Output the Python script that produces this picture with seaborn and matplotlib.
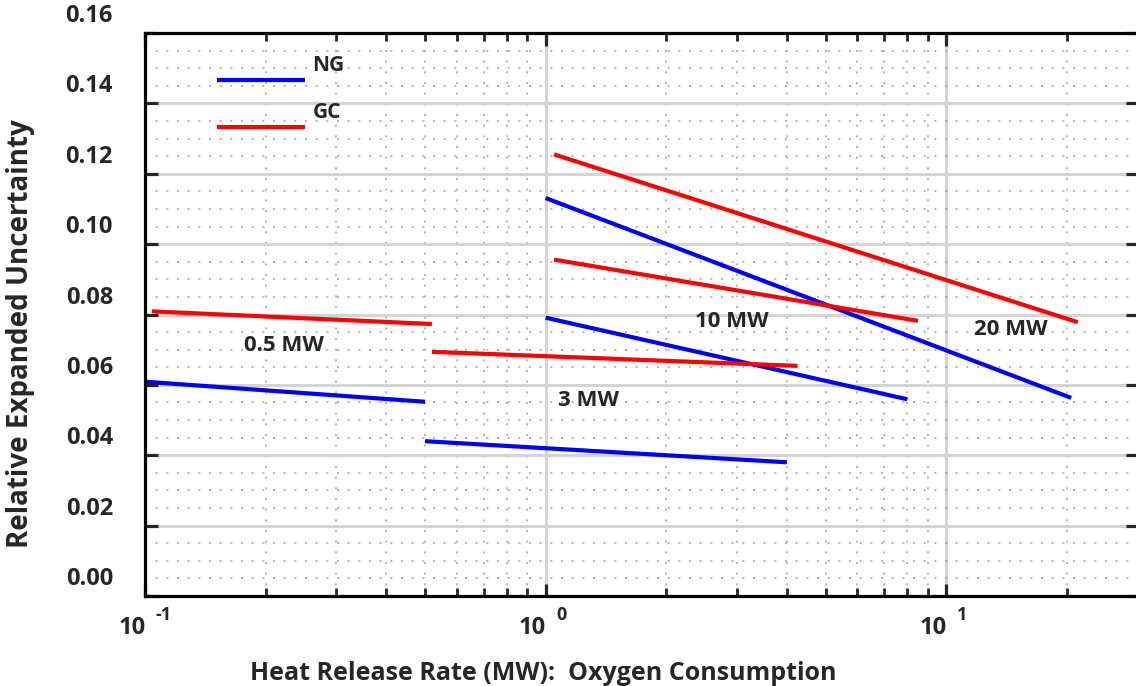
import numpy as np
import pandas as pd
import seaborn as sns
import matplotlib
matplotlib.use("Agg")
import matplotlib.pyplot as plt
import matplotlib.transforms as mtransforms
from matplotlib.ticker import LogLocator, MultipleLocator, NullFormatter

# ---------------- data ----------------
segments = ["0.5 MW", "3 MW", "10 MW", "20 MW"]
ng_x_start = [0.1, 0.5, 1.0, 1.0]
ng_x_end = [0.5, 4.0, 8.0, 20.5]
ng_y_start = [0.0609, 0.0440, 0.0791, 0.1131]
ng_y_end = [0.0552, 0.0380, 0.0559, 0.0563]
gc_x_start = [0.104, 0.52, 1.05, 1.05]
gc_x_end = [0.52, 4.25, 8.5, 21.3]
gc_y_start = [0.0809, 0.0694, 0.0956, 0.1255]
gc_y_end = [0.0773, 0.0654, 0.0782, 0.0778]
series_names = ["NG", "GC"]
series_colors = ["#0000ff", "#ff0000"]
y_ticks = [0.00, 0.02, 0.04, 0.06, 0.08, 0.10, 0.12, 0.14, 0.16]
y_tick_labels = ["0.00", "0.02", "0.04", "0.06", "0.08", "0.10", "0.12", "0.14", "0.16"]
x_major = [0.1, 1.0, 10.0]
x_exponents = ["-1", "0", "1"]
x_label = "Heat Release Rate (MW):  Oxygen Consumption"
y_label = "Relative Expanded Uncertainty"
# label anchor points (x, y) for the MW annotations
label_x = [0.222, 1.28, 2.91, 14.45]
label_y = [0.0713, 0.0555, 0.0779, 0.0758]

rows = []
for name, xs, xe, ys, ye in [("NG", ng_x_start, ng_x_end, ng_y_start, ng_y_end),
                              ("GC", gc_x_start, gc_x_end, gc_y_start, gc_y_end)]:
    for i, seg in enumerate(segments):
        rows.append({"series": name, "seg": f"{name}-{seg}", "x": xs[i], "y": ys[i]})
        rows.append({"series": name, "seg": f"{name}-{seg}", "x": xe[i], "y": ye[i]})
df = pd.DataFrame(rows)

# ---------------- figure ----------------
sns.set_style("white")
plt.rcParams["font.family"] = ["Open Sans", "DejaVu Sans"]
plt.rcParams["font.weight"] = "bold"

W, H = 1136, 686
fig = plt.figure(figsize=(W / 100, H / 100), dpi=100)
ax = fig.add_axes([145 / W, 1 - 596 / H, (W + 2 - 145) / W, (596 - 33) / H])
ax.set_xscale("log")
ax.set_xlim(0.1, 30.1)
ax.set_ylim(0, 0.16)

# grid
ax.yaxis.set_major_locator(MultipleLocator(0.02))
ax.yaxis.set_minor_locator(MultipleLocator(0.005))
ax.xaxis.set_major_locator(LogLocator(base=10, numticks=10))
ax.xaxis.set_minor_locator(LogLocator(base=10, subs=np.arange(2, 10), numticks=20))
ax.xaxis.set_minor_formatter(NullFormatter())
ax.set_axisbelow(True)
ax.grid(which="major", axis="both", color="#d4d4d4", lw=2.2, ls="-")
ax.grid(which="minor", axis="both", color="#a8a8a8", lw=1.2, ls=(0, (1.2, 5.2)))

sns.lineplot(data=df, x="x", y="y", hue="series", units="seg", estimator=None,
             palette=dict(zip(series_names, series_colors)), lw=3.0, ax=ax,
             legend=False, sort=False)
for l in ax.get_lines():
    l.set_solid_capstyle("butt")
ax.set_xlabel("")
ax.set_ylabel("")

# spines & ticks
for s in ax.spines.values():
    s.set_linewidth(2.3)
    s.set_color("black")
ax.tick_params(axis="both", which="major", direction="in", length=9, width=2.3,
               top=True, right=True, bottom=True, left=True,
               labelbottom=False, labelleft=False)
ax.tick_params(axis="x", which="minor", direction="in", length=5.5, width=2.0,
               top=True, bottom=True)
ax.tick_params(axis="y", which="minor", length=0)

tick_fs = 17
# y tick labels (shifted upward as in reference)
ytrans = mtransforms.blended_transform_factory(ax.transAxes, ax.transData) + \
    mtransforms.ScaledTranslation(-0.32, 0.17, fig.dpi_scale_trans)
for v, t in zip(y_ticks, y_tick_labels):
    ax.text(0, v, t, transform=ytrans, ha="right", va="center", fontsize=tick_fs,
            fontweight="bold", clip_on=False)

# x tick labels as 10 with offset exponent
for v, e in zip(x_major, x_exponents):
    tb = mtransforms.blended_transform_factory(ax.transData, ax.transAxes)
    t1 = tb + mtransforms.ScaledTranslation(-0.13, -0.315, fig.dpi_scale_trans)
    t2 = tb + mtransforms.ScaledTranslation(0.11, -0.19, fig.dpi_scale_trans)
    ax.text(v, 0, "10", transform=t1, ha="center", va="center", fontsize=tick_fs,
            fontweight="bold", clip_on=False)
    ax.text(v, 0, e, transform=t2, ha="left", va="center", fontsize=13,
            fontweight="bold", clip_on=False)

fig.text(543 / W, 1 - 680 / H, x_label, ha="center", va="baseline",
         fontsize=18, fontweight="bold")
fig.text(21 / W, 1 - 334 / H, y_label, ha="center", va="center", rotation=90,
         fontsize=20, fontweight="bold")

# MW annotations
for lx, ly, s in zip(label_x, label_y, segments):
    ax.text(lx, ly, s, ha="center", va="center", fontsize=16, fontweight="bold")

# legend drawn as in the reference
leg_y = [0.9165, 0.8336]
for name, c, yy in zip(series_names, series_colors, leg_y):
    ax.plot([0.0727, 0.1615], [yy, yy], transform=ax.transAxes, color=c, lw=3.0,
            solid_capstyle="butt")
    ax.text(0.1685, yy + 0.025, name, transform=ax.transAxes, ha="left",
            va="center", fontsize=15, fontweight="bold")

fig.savefig("out.png", dpi=100)
